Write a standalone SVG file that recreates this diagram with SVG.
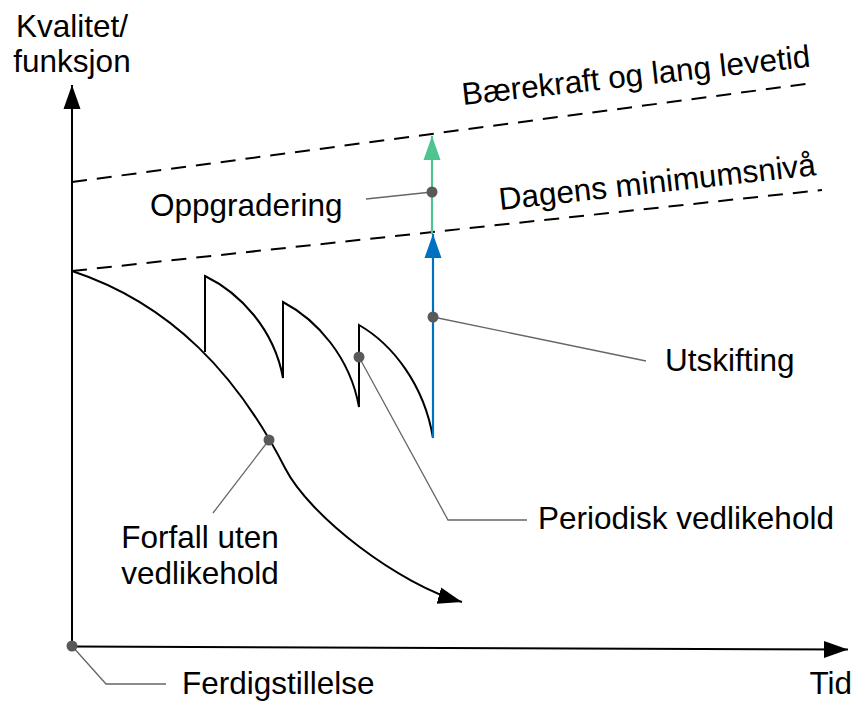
<svg xmlns="http://www.w3.org/2000/svg" width="857" height="701" viewBox="0 0 857 701">
<style>
text{font-family:"Liberation Sans",Arial,sans-serif;font-size:31.5px;fill:#000}
.ax{stroke:#000;stroke-width:2;fill:none}
.dash{stroke:#000;stroke-width:2;fill:none;stroke-dasharray:15 10}
.curve{stroke:#000;stroke-width:2;fill:none}
.lead{stroke:#666;stroke-width:1.3;fill:none}
.dot{fill:#595959}
</style>
<defs>
<marker id="hk" markerUnits="userSpaceOnUse" markerWidth="26" markerHeight="20" refX="24" refY="9" orient="auto"><path d="M0,0.5 L24,9 L0,17.5 Z" fill="#000"/></marker>
<marker id="hb" markerUnits="userSpaceOnUse" markerWidth="26" markerHeight="20" refX="24" refY="9" orient="auto"><path d="M0,0.5 L24,9 L0,17.5 Z" fill="#0070C0"/></marker>
<marker id="hg" markerUnits="userSpaceOnUse" markerWidth="26" markerHeight="20" refX="24" refY="9" orient="auto"><path d="M0,0.5 L24,9 L0,17.5 Z" fill="#50C48E"/></marker>
</defs>
<g id="axes">
<path class="ax" d="M72,646 L72,85" marker-end="url(#hk)"/>
<path class="ax" d="M72,646.5 L848,649.5" marker-end="url(#hk)"/>
<text x="72" y="37" text-anchor="middle">Kvalitet/</text>
<text x="72" y="72" text-anchor="middle">funksjon</text>
<text x="852" y="694" text-anchor="end">Tid</text>
</g>
<g id="levels">
<path class="dash" d="M72,182 L813,83"/>
<path class="dash" d="M72,271 L822,190"/>
<text transform="translate(463,105) rotate(-6.3)">Bærekraft og lang levetid</text>
<text transform="translate(500,210) rotate(-6.3)">Dagens minimumsnivå</text>
</g>
<g id="connectors">
<path class="curve" d="M72,271 C172,304 238,376 285,468 C310,517 400,585 462,602" marker-end="url(#hk)"/>
<path class="curve" d="M205,352 L205,276 C240,293 274,329 283,378 L283,302 C317,320 350,357 359,407 L359,325 C392,344 424,384 433,438"/>
<path d="M433,438 L433,234" stroke="#0070C0" stroke-width="2.2" fill="none" marker-end="url(#hb)"/>
<path d="M432,234 L432,136" stroke="#50C48E" stroke-width="2.2" fill="none" marker-end="url(#hg)"/>
<path class="lead" d="M366,199 L432,192"/>
<path class="lead" d="M433,317 L646,361"/>
<path class="lead" d="M359,357 L448,520 L527,520"/>
<path class="lead" d="M269,440 L213,513"/>
<path class="lead" d="M72,646 L106,684 L166,684"/>
</g>
<g id="node-oppgradering">
<circle class="dot" cx="432" cy="192" r="5.5"/>
<text x="150" y="216">Oppgradering</text>
</g>
<g id="node-utskifting">
<circle class="dot" cx="433" cy="317" r="5.5"/>
<text x="665" y="371">Utskifting</text>
</g>
<g id="node-periodisk">
<circle class="dot" cx="359" cy="357" r="5.5"/>
<text x="538" y="529">Periodisk vedlikehold</text>
</g>
<g id="node-forfall">
<circle class="dot" cx="269" cy="440" r="5.5"/>
<text x="200" y="548" text-anchor="middle">Forfall uten</text>
<text x="200" y="584" text-anchor="middle">vedlikehold</text>
</g>
<g id="node-ferdig">
<circle class="dot" cx="72" cy="646" r="5.5"/>
<text x="182" y="694">Ferdigstillelse</text>
</g>
</svg>
